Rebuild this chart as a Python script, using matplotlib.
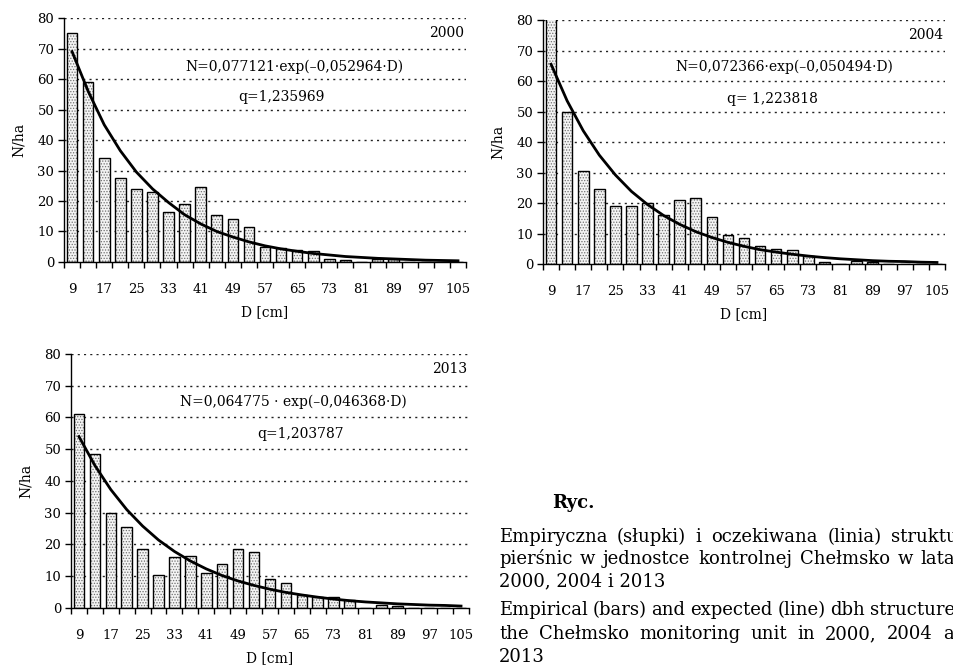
import matplotlib
matplotlib.use("Agg")
import matplotlib.pyplot as plt
import numpy as np

plt.rcParams['font.family'] = ['DejaVu Serif']
plt.rcParams['hatch.linewidth'] = 0.6

# klasy pierśnic (środki klas, co 4 cm)
d_classes = [9, 13, 17, 21, 25, 29, 33, 37, 41, 45, 49, 53, 57, 61, 65,
             69, 73, 77, 81, 85, 89, 93, 97, 101, 105]

# 2000
bars_2000 = [75, 59, 34, 27.5, 24, 23, 16.5, 19, 24.5, 15.5, 14, 11.5, 5, 4.5, 4,
             3.5, 1, 0.5, 0, 1, 1, 0, 0, 0, 0]
curve_2000 = [69, 56, 45, 36.5, 29.5, 24, 19.5, 15.5, 12.5, 10, 8.2, 6.6, 5.3, 4.3, 3.5,
              2.8, 2.3, 1.8, 1.5, 1.2, 1.0, 0.8, 0.6, 0.5, 0.4]

# 2004
bars_2004 = [85, 50, 30.5, 24.5, 19, 19, 20, 16, 21, 21.5, 15.5, 9.5, 8.5, 6, 5,
             4.5, 2.5, 0.5, 0, 1, 0.5, 0, 0, 0, 0]
curve_2004 = [65.5, 53.5, 43.7, 35.7, 29.2, 23.8, 19.5, 15.9, 13, 10.6, 8.7, 7.1, 5.8, 4.7, 3.9,
              3.2, 2.6, 2.1, 1.7, 1.4, 1.1, 0.9, 0.8, 0.6, 0.5]

# 2013
bars_2013 = [61, 48.5, 30, 25.5, 18.5, 10.5, 16, 16.5, 11, 14, 18.5, 17.5, 9, 8, 4,
             3.5, 3.5, 2.5, 0, 1, 0.5, 0, 0, 0, 0]
curve_2013 = [54, 44.9, 37.3, 31, 25.8, 21.4, 17.8, 14.8, 12.3, 10.2, 8.5, 7.1, 5.9, 4.9, 4.1,
              3.4, 2.8, 2.3, 1.9, 1.6, 1.3, 1.1, 0.9, 0.8, 0.6]

W, H = 954, 667


def draw_panel(ax, bars, curve, year, eq, q, eq_xy, q_xy):
    x = np.arange(len(d_classes))
    # kropkowane wypełnienie słupków + czarny obrys
    ax.bar(x, bars, width=0.66, color='#f4f4f4', hatch='......', edgecolor='#707070',
           linewidth=0, zorder=2)
    ax.bar(x, bars, width=0.66, fill=False, edgecolor='black', linewidth=1.0, zorder=3)
    ax.plot(x, curve, color='black', linewidth=2.0, zorder=4)

    ax.set_xlim(-0.5, len(d_classes) - 0.5)
    ax.set_ylim(0, 80)
    ax.set_yticks(range(0, 81, 10))
    for yv in range(10, 81, 10):
        ax.axhline(yv, color='#222222', linestyle=(0, (1.5, 3)), linewidth=1.0, zorder=1)

    ax.set_xticks(x[::2])
    ax.set_xticklabels([str(d) for d in d_classes[::2]])
    ax.set_xticks(np.arange(len(d_classes) + 1) - 0.5, minor=True)
    ax.tick_params(axis='x', which='major', length=0, pad=15, labelsize=9.5)
    ax.tick_params(axis='x', which='minor', length=4, width=1, direction='out')
    ax.tick_params(axis='y', length=4, width=1, direction='out', labelsize=9.5, pad=3)

    for s in ['top', 'right']:
        ax.spines[s].set_visible(False)
    for s in ['left', 'bottom']:
        ax.spines[s].set_linewidth(1.0)

    ax.set_xlabel('D [cm]', fontsize=10, labelpad=7)
    ax.set_ylabel('N/ha', fontsize=10, labelpad=8)

    ax.text(0.995, 0.94, year, transform=ax.transAxes, ha='right', va='center', fontsize=10)
    ax.text(eq_xy[0], eq_xy[1], eq, transform=ax.transAxes, ha='center', va='center', fontsize=10)
    ax.text(q_xy[0], q_xy[1], q, transform=ax.transAxes, ha='center', va='center', fontsize=10)


def caption_line(fig, x0, ypx, line, width_px=None, fs=13):
    # wyjustowana linia podpisu (tekst wychodzi poza prawą krawędź jak w oryginale)
    words = line.split(' ')
    if width_px is None or len(words) < 2:
        fig.text(x0 / W, 1 - ypx / H, line, fontsize=fs, va='center')
        return
    r = fig.canvas.get_renderer()
    texts = [fig.text(0, 1 - ypx / H, w, fontsize=fs, va='center') for w in words]
    widths = [t.get_window_extent(r).width for t in texts]
    gap = (width_px - sum(widths)) / (len(words) - 1)
    xx = x0
    for t, w in zip(texts, widths):
        t.set_x(xx / W)
        xx += w + gap


fig = plt.figure(figsize=(9.54, 6.67), dpi=100)

ax1 = fig.add_axes([0.0671, 0.6072, 0.4214, 0.3658])
draw_panel(ax1, bars_2000, curve_2000, '2000',
           'N=0,077121·exp(–0,052964·D)', 'q=1,235969', (0.572, 0.80), (0.542, 0.676))

ax2 = fig.add_axes([0.5692, 0.6042, 0.4214, 0.3658])
draw_panel(ax2, bars_2004, curve_2004, '2004',
           'N=0,072366·exp(–0,050494·D)', 'q= 1,223818', (0.600, 0.807), (0.570, 0.676))

ax3 = fig.add_axes([0.0744, 0.0885, 0.4172, 0.3808])
draw_panel(ax3, bars_2013, curve_2013, '2013',
           'N=0,064775 · exp(–0,046368·D)', 'q=1,203787', (0.558, 0.811), (0.578, 0.685))

# podpis ryciny
fig.text(552 / W, 1 - 503 / H, 'Ryc.', fontsize=13, fontweight='bold', va='center')
col_w = 478
caption_line(fig, 499, 537, 'Empiryczna (słupki) i oczekiwana (linia) struktura', col_w)
caption_line(fig, 499, 559, 'pierśnic w jednostce kontrolnej Chełmsko w latach', col_w)
caption_line(fig, 499, 581, '2000, 2004 i 2013')
caption_line(fig, 499, 610, 'Empirical (bars) and expected (line) dbh structure in', col_w)
caption_line(fig, 499, 634, 'the Chełmsko monitoring unit in 2000, 2004 and', col_w)
caption_line(fig, 499, 657, '2013')

fig.savefig('out.png', dpi=100)
